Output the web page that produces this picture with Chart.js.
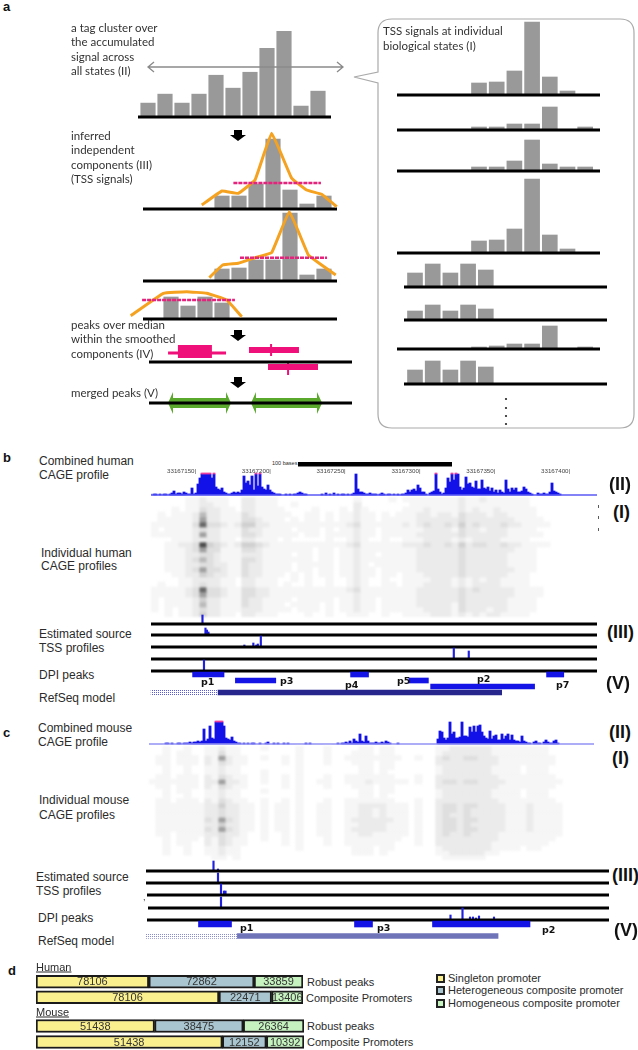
<!DOCTYPE html>
<html>
<head>
<meta charset="utf-8">
<script src="https://cdn.jsdelivr.net/npm/chart.js@4"></script>
<style>
  html, body { margin: 0; padding: 0; background: #fff; }
  #page { position: relative; width: 638px; height: 1050px; overflow: hidden; }
  #page canvas { position: absolute; filter: blur(0.4px); }
  #page canvas.heat { filter: blur(0.9px); }
  .t { position: absolute; white-space: pre; transform: translateY(-50%); line-height: 1; color: #2b2b2b; font-family: "Liberation Sans", Arial, sans-serif; font-size: 12px; }
  .g { font-family: Lato, sans-serif; font-size: 11.5px; color: #333; }
  .b { font-weight: bold; color: #111; }
  #marks { position: absolute; left: 0; top: 0; z-index: 5; }
  .sq { position: absolute; width: 5px; height: 5px; border: 2px solid #222; }
</style>
</head>
<body>
<div id="page"></div>
<script>
// panel a, left column (bar heights)
var accumulated = [14, 23, 14, 23, 42, 29, 45, 69, 86, 11, 26];
var component1 = [13, 13, 25, 70, 19, 5, 13];
var component2 = [12, 13, 21, 21, 68, 6, 12];
var component3 = [22, 13, 22, 16];
var smooth1X = [-1.19, 0, 0.96, 1.94, 2.92, 4.1, 4.98, 5.86, 6.75];
var smooth1Y = [4, 18, 15.7, 29, 75.7, 30.7, 19, 14.7, 2.3];
var smooth2X = [-0.75, 0.04, 0.96, 1.94, 2.92, 3.96, 5.08, 5.86, 6.69];
var smooth2Y = [3.3, 16, 17.7, 23.3, 28.3, 69.3, 26, 16, 6];
var smooth3X = [-2.37, -0.45, 0.92, 2.1, 3.28, 4.16];
var smooth3Y = [3.3, 25.7, 27.3, 25.7, 19, 2.3];
var median1 = [0.67, 5.82, 26];
var median2 = [1.06, 6.18, 23.3];
var median3 = [-1.7, 3.76, 19];

// panel a, right column (bar heights per state)
var state1 = [12, 13, 24, 73, 18, 4, 0];
var state2 = [3, 3, 6, 6, 23, 0, 3];
var state3 = [4, 4, 10, 31, 7, 4, 4];
var state4 = [12, 13, 24, 74, 18, 4, 0];
var state5 = [14, 23, 14, 23, 17];
var state6 = [9, 15, 9, 15, 11];
var state7 = [2, 3, 5, 5, 23, 0, 2];
var state8 = [14, 23, 14, 23, 17];

// panel b, combined human profile
var humanTrack = [
  1,0,1,1,0,1,0,1,1,0, 1,2,4,1,2,2,1,3,2,1, 1,7,1,2,11,17,21,21,21,21,
  21,17,21,8,6,5,7,3,2,1, 1,2,3,2,3,2,5,19,12,14, 10,19,5,21,9,21,8,6,5,10,
  5,3,2,1,1,1,0,0,1,0, 1,0,1,1,2,3,2,1,1,0, 0,0,0,0,0,0,1,0,2,0,
  1,0,2,0,1,0,1,1,0,1, 0,1,2,21,6,3,3,2,1,1, 2,1,1,1,0,1,2,1,0,1,
  1,0,1,0,1,0,1,1,2,5, 3,5,6,4,10,7,3,3,1,0, 2,3,4,21,6,3,1,2,7,17,
  13,21,15,21,21,8,5,7,18,11, 12,8,7,14,6,6,15,7,6,8, 4,7,3,5,2,5,3,2,15,6,
  3,7,5,7,3,3,4,8,6,3, 2,1,0,0,2,1,1,2,1,1, 3,12,4,3,2,1,0,0,0,0,
  0,0,0,0,0,0,0,0,0,0, 0,0,0
];
var humanClipped = [26, 27, 28, 29, 30, 32, 53, 55, 143, 151, 153];
var rulerTicks = [33167150, 33167200, 33167250, 33167300, 33167350, 33167400];

// panel b, individual human profiles (shade 0-9 per cell)
var humanRows = [
  "0000011 2 11100 221 1100000000000 1 00001011 1111112 11211111 10000000000",
  "0000011 2 21100 221 1100100000000 2 00000001 1111112 11111111 10000000000",
  "0001011 3 22110 221 1110000100010 2 10000011 1211112 12112111 11000000000",
  "0101112 5 22111 321 1111001101011 2 11010111 2212213 22212211 11000000000",
  "0111112 6 22111 332 1110101101011 2 11011111 2222223 22222221 11100000000",
  "1111113 8 33212 442 2111111111112 3 11111121 2322324 23222322 11110000000",
  "1011112 3 22111 322 1111011101011 2 11011111 1222213 22122211 11000000000",
  "1111112 6 22111 332 1111101101111 2 11011111 2222223 22222211 11100000000",
  "0001112 2 22110 221 1101000001001 2 10010011 1222212 12222111 10000000000",
  "0011223 9 43212 443 2111111111112 3 11111122 2322324 23322322 11110000000",
  "0011123 6 33111 332 1111111011011 2 11111111 2222223 22222221 11000000000",
  "0011122 3 32111 222 1111011011011 2 11011111 2222223 22222211 11000000000",
  "0011123 5 32111 332 1111111011011 2 11111111 2222223 22222211 11000000000",
  "0011122 3 32211 322 1111011111011 2 10111111 2222223 22222211 11000000000",
  "0011123 6 33211 322 1111011011011 2 11011111 2222223 22222221 11000000000",
  "0001122 4 32211 322 1110101011011 2 11011011 1222223 22222211 10000000000",
  "0000112 2 22110 221 1100101001001 2 10010011 1122212 12122111 10000000000",
  "0100112 3 22110 221 1101001001001 2 10011011 1222212 12222111 10000000000",
  "1111123 8 33211 332 2111111111112 3 11111111 2222223 23222221 11100000000",
  "1111123 6 33211 332 2111111111111 2 11111111 2222223 22222221 11100000000",
  "1011112 4 22111 322 1111011111011 2 11011111 2222223 22222211 11000000000",
  "1011112 5 22111 322 1110111101011 2 11011111 2222213 22222211 11000000000",
  "1010112 3 22111 222 1111011101011 2 11011111 1222213 22212211 11000000000",
  "0010112 4 22110 221 1100001001001 1 10010011 1122212 12122111 10000000000"
];

// panel b, estimated source profiles: position (base offset) and height
var humanSrc1X = [155], humanSrc1Y = [9];
var humanSrc2X = [157, 158, 159], humanSrc2Y = [7, 5, 3];
var humanSrc3X = [183, 189, 191, 192, 194], humanSrc3Y = [2, 4, 2, 3, 11];
var humanSrc4X = [323, 333], humanSrc4Y = [11, 8];
var humanSrc5X = [156], humanSrc5Y = [11];

// panel b, DPI peaks and gene model: start, end
var humanLane0 = [[148.4, 169.4], [254, 266], [385, 396.5]];
var humanLane1 = [[177, 204], [293, 306]];
var humanLane2 = [[307.5, 377]];
var humanUtr = [120.6, 165];
var humanGene = [165, 355];

// panel c, combined mouse profile
var mouseTrack = [
  0,0,0,0,0,0,0,0,0,1, 1,0,1,0,0,1,1,0,1,1, 1,2,1,2,2,3,2,3,15,3,
  5,18,6,5,22,22,22,22,18,6, 5,4,7,3,2,1,1,0,1,0, 1,0,1,1,0,0,1,0,0,1,
  2,0,0,1,0,1,0,0,1,0, 1,0,0,0,0,0,0,0,0,1, 0,1,0,0,0,0,0,0,0,0,
  0,0,0,0,0,1,0,1,1,2, 1,3,1,5,3,2,10,3,2,8, 3,1,1,1,2,1,1,2,1,3,
  2,1,0,0,0,1,0,0,0,0, 0,0,0,0,0,0,0,0,0,0, 0,0,0,0,0,5,13,12,6,4,
  6,22,10,12,6,6,7,22,8,8, 7,17,12,18,12,18,19,12,8,6, 5,13,5,8,9,4,4,10,5,8,
  10,4,9,4,3,3,2,8,3,2, 1,1,0,2,3,1,1,0,2,4, 2,1,1,3,4,1,0,0,0,0,
  0,0,0,0,0,0,0,0,0,0, 0,0,0
];
var mouseClipped = [34, 35, 36, 37];

// panel c, individual mouse profiles (shade 0-9 per cell)
var mouseRows = [
  "00100100 11 2 11 000100001000100 00110110 00000 1122222211 11111100 00000",
  "00101100 11 3 11 000000001000100 01110110 00000 1222222211 11111100 00000",
  "01101110 21 6 21 100100101000100 11111111 00100 2322332221 11111110 00000",
  "01101110 21 3 21 100000101000100 01110110 00000 2222222221 11111110 00000",
  "00100100 11 2 11 000000001000000 00110110 00000 1222222211 11011100 00000",
  "00100100 11 2 11 000100001000000 00110100 00000 1222222211 11011100 00000",
  "01101110 21 3 21 100100101000100 11111110 00100 2222222221 11111110 00000",
  "11111110 22 6 22 100100101001100 11121111 10100 2332332222 11111111 00000",
  "01101110 21 3 21 100000101000100 01110110 00000 2222222221 11111110 00000",
  "00101100 11 2 11 000100001000000 00110110 00000 1222222211 11011100 00000",
  "00100100 11 2 11 000000001000000 00110100 00000 1222222211 11011100 00000",
  "01101110 21 3 21 100100101000100 11111110 00100 2222222221 11111110 00000",
  "01111111 22 4 22 110101101001100 11222211 10100 2332332222 11121111 00000",
  "01111111 22 3 22 110101101001100 11221211 10100 2332322222 11121111 00000",
  "01111111 22 3 22 110101101001100 11221211 10100 2322322222 11121111 00000",
  "01111111 32 6 32 110101101001100 12222221 10100 2332332222 11121111 00000",
  "01111111 22 4 22 110101101001100 11222211 10100 2332322222 11121111 00000",
  "01111111 32 6 32 110101101001100 12222211 10100 2332332222 11121111 00000",
  "01101111 22 3 22 100100101001100 11221111 10100 2322322221 11111111 00000",
  "00101110 21 3 21 100100101000100 11111111 00100 2222222221 11111110 00000",
  "00101100 21 3 21 100000101000100 11111110 00100 2222222211 11111100 00000",
  "00100100 11 2 11 000000001000000 01110110 00000 1222222211 11011000 00000",
  "00100100 11 2 11 000000000000000 01110100 00000 1122222110 00000000 00000",
  "00000000 01 1 01 000000000000000 00000000 00000 0111111000 00000000 00000"
];

// panel c, estimated source profiles
var mouseSrc1X = [43, 46], mouseSrc1Y = [10, 2];
var mouseSrc2X = [46], mouseSrc2Y = [10];
var mouseSrc3X = [48, 50, 51], mouseSrc3Y = [11, 4, 4];
var mouseSrc4X = [48], mouseSrc4Y = [11];
var mouseSrc5X = [201, 209, 214, 216, 218, 220, 230], mouseSrc5Y = [5, 12, 3, 3, 2, 4, 3];

var mouseLane0 = [[33, 55], [137, 149], [189, 254]];
var mouseUtr = [-2, 58.5];
var mouseGene = [58.5, 232.7];

// panel d
var humanRobust = [78106, 72862, 33859];
var humanComposite = [78106, 22471, 13406];
var mouseRobust = [51438, 38475, 26364];
var mouseComposite = [51438, 12152, 10392];
var promoterTypes = ['Singleton promoter', 'Heterogeneous composite promoter', 'Homogeneous composite promoter'];
var promoterColors = ['#fbf08e', '#a9c5cf', '#c5f2bf'];
var rowNames = ['Robust peaks', 'Composite Promoters'];

var page = document.getElementById('page');
var shades = ['#ffffff', '#f6f6f6', '#ebebeb', '#dfdfdf', '#d0d0d0', '#bababa', '#a0a0a0', '#848484', '#686868', '#4c4c4c'];

function label(text, x, y, cls, css) {
  var d = document.createElement('div');
  d.className = 't ' + (cls || '');
  d.textContent = text;
  d.style.left = x + 'px';
  d.style.top = y + 'px';
  if (css) d.style.cssText += css;
  page.appendChild(d);
  return d;
}

function makeCanvas(box, cls) {
  var c = document.createElement('canvas');
  c.width = box.x1 - box.x0;
  c.height = box.bottom - box.top;
  c.style.left = box.x0 + 'px';
  c.style.top = box.top + 'px';
  c.style.width = c.width + 'px';
  c.style.height = c.height + 'px';
  if (cls) c.className = cls;
  page.appendChild(c);
  return c;
}

// one chart on a linear/linear pair of scales; box says where a data unit lands on the page
function panel(box, datasets, cls, horizontal) {
  var ux = box.unitX || 1, uy = box.unitY || 1;
  return new Chart(makeCanvas(box, cls), {
    type: 'bar',
    data: { datasets: datasets },
    options: {
      indexAxis: horizontal ? 'y' : 'x',
      responsive: false,
      animation: false,
      events: [],
      layout: { padding: 0 },
      plugins: { legend: { display: false }, tooltip: { enabled: false } },
      scales: {
        x: { type: 'linear', display: false, offset: false, min: (box.x0 - box.originX) / ux, max: (box.x1 - box.originX) / ux },
        y: { type: 'linear', display: false, offset: false, min: (box.originY - box.bottom) / uy, max: (box.originY - box.top) / uy }
      }
    }
  });
}

function bars(values, first, color, thick) {
  var pts = [];
  for (var i = 0; i < values.length; i++) {
    if (values[i]) pts.push({ x: i + first, y: values[i] });
  }
  return { type: 'bar', data: pts, backgroundColor: color, barThickness: thick, grouped: false, borderWidth: 0 };
}

function xyBars(xs, ys, color, thick) {
  var pts = xs.map(function (x, i) { return { x: x, y: ys[i] }; });
  return { type: 'bar', data: pts, backgroundColor: color, barThickness: thick, grouped: false, borderWidth: 0 };
}

function line(xs, ys, color, width, extra) {
  var pts = xs.map(function (x, i) { return { x: x, y: ys[i] }; });
  var ds = { type: 'line', data: pts, borderColor: color, borderWidth: width, pointRadius: 0, tension: 0, fill: false, borderCapStyle: 'butt' };
  for (var k in extra) ds[k] = extra[k];
  return ds;
}

function span(box, from, to, color, width) {
  var ux = box.unitX || 1;
  return line([(from - box.originX) / ux, (to - box.originX) / ux], [0, 0], color, width);
}

// panel a, left column
function histPanel(values, originX, y0, top, lineFrom, lineTo, smoothX, smoothY, median) {
  var box = { x0: 120, x1: 365, top: top, bottom: y0 + 4, originX: originX, unitX: 17, originY: y0 };
  var sets = [];
  if (median) sets.push(line([median[0], median[1]], [median[2], median[2]], '#e4237c', 2.5, { borderDash: [4, 1] }));
  if (smoothX) sets.push(line(smoothX, smoothY, '#f5a220', 3, { tension: 0.08 }));
  sets.push(span(box, lineFrom, lineTo, '#000', 3));
  sets.push(bars(values, 0, '#999999', 14.5));
  panel(box, sets);
}
histPanel(accumulated, 148, 117.5, 20, 138, 331);
histPanel(component1, 222, 209, 125, 143, 337, smooth1X, smooth1Y, median1);
histPanel(component2, 222, 281, 205, 143, 337, smooth2X, smooth2Y, median2);
histPanel(component3, 171, 319, 285, 143, 337, smooth3X, smooth3Y, median3);

// panel a, peaks over median
var peakBox = { x0: 120, x1: 365, top: 335, bottom: 385, originX: 148, unitX: 17, originY: 362 };
panel(peakBox, [
  span(peakBox, 149, 352, '#000', 3),
  line([1.76, 3.76], [10.5, 10.5], '#f0107a', 13),
  line([1.18, 4.59], [9, 9], '#f0107a', 3),
  line([5.94, 8.88], [12, 12], '#f0107a', 6),
  line([7.24, 7.24], [18, 6], '#f0107a', 2),
  line([7.06, 10], [-5, -5], '#f0107a', 6),
  line([8.24, 8.24], [0, -13], '#f0107a', 2)
]);

// panel a, merged peaks
var mergedBox = { x0: 120, x1: 365, top: 388, bottom: 418, originX: 148, unitX: 17, originY: 403 };
var arrowFill = { fill: 'origin', backgroundColor: '#5aa82c' };
panel(mergedBox, [
  span(mergedBox, 149, 352, '#000', 3),
  line([1.18, 1.47, 1.47, 4.59, 4.59, 4.88], [0, 11, 5, 5, 11, 0], '#5aa82c', 0, arrowFill),
  line([1.18, 1.47, 1.47, 4.59, 4.59, 4.88], [0, -11, -5, -5, -11, 0], '#5aa82c', 0, arrowFill),
  line([6.06, 6.35, 6.35, 9.94, 9.94, 10.24], [0, 11, 5, 5, 11, 0], '#5aa82c', 0, arrowFill),
  line([6.06, 6.35, 6.35, 9.94, 9.94, 10.24], [0, -11, -5, -5, -11, 0], '#5aa82c', 0, arrowFill)
]);

// panel a, right column
function statePanel(values, originX, y0, lineFrom) {
  var box = { x0: 390, x1: 615, top: y0 - 80, bottom: y0 + 4, originX: originX, unitX: 17.7, originY: y0 };
  panel(box, [span(box, lineFrom, lineFrom + 203, '#000', 3), bars(values, 0, '#999999', 15)]);
}
statePanel(state1, 479, 95, 397);
statePanel(state2, 479, 130, 397);
statePanel(state3, 479, 171, 397);
statePanel(state4, 479, 253, 397);
statePanel(state5, 415, 287, 404);
statePanel(state6, 415, 320, 404);
statePanel(state7, 479, 349, 397);
statePanel(state8, 415, 384, 404);

// panels b and c, combined tracks
function trackPanel(values, clipped, originX, y0, top, x1, lineColor, capTop) {
  var box = { x0: originX, x1: x1, top: top, bottom: y0 + 2, originX: originX - 1, unitX: 2, originY: y0 };
  var caps = clipped.map(function (i) { return { x: i, y: [capTop, capTop + 1] }; });
  panel(box, [
    line([0, (x1 - originX) / 2 + 1], [0, 0], lineColor, 1.3),
    { type: 'bar', data: caps, backgroundColor: '#ee3fa0', barThickness: 2, grouped: false, borderWidth: 0 },
    bars(values, 0, '#1212e8', 2.2)
  ]);
}
trackPanel(humanTrack, humanClipped, 151, 495, 470, 597, '#5a5af5', 21);
trackPanel(mouseTrack, mouseClipped, 149, 744, 719, 594, '#9090f5', 22);

// panels b and c, heat maps
function heatPanel(rows, originX, top, bottom, unitX, unitY) {
  var box = { x0: originX, x1: originX + 64 * unitX, top: top, bottom: bottom, originX: originX, unitX: unitX, originY: top, unitY: unitY };
  var sets = rows.map(function (row, r) {
    var cells = row.replace(/ /g, '');
    var pts = [], cols = [];
    for (var i = 0; i < cells.length; i++) {
      if (cells[i] !== '0') {
        pts.push({ x: i + 0.5, y: [-r - 1, -r] });
        cols.push(shades[+cells[i]]);
      }
    }
    return { type: 'bar', data: pts, backgroundColor: cols, barThickness: unitX + 0.5, grouped: false, borderWidth: 0 };
  });
  panel(box, sets, 'heat');
}
heatPanel(humanRows, 151, 497, 617, 7, 5);
heatPanel(mouseRows, 149, 746, 860, 7, 4.75);

// panels b and c, source profile tracks
function sourceTrack(xs, ys, y0, from, to, originX, unitX) {
  var box = { x0: from, x1: to, top: y0 - 14, bottom: y0 + 3, originX: originX, unitX: unitX, originY: y0 };
  panel(box, [span(box, from, to, '#000', 3), xyBars(xs, ys, '#2020e0', 1.5)]);
}
var humanOrigin = 195 - 150 * 1.496;
sourceTrack(humanSrc1X, humanSrc1Y, 624, 151, 597, humanOrigin, 1.496);
sourceTrack(humanSrc2X, humanSrc2Y, 635, 151, 597, humanOrigin, 1.496);
sourceTrack(humanSrc3X, humanSrc3Y, 647, 151, 597, humanOrigin, 1.496);
sourceTrack(humanSrc4X, humanSrc4Y, 659, 151, 597, humanOrigin, 1.496);
sourceTrack(humanSrc5X, humanSrc5Y, 671, 151, 597, humanOrigin, 1.496);
sourceTrack(mouseSrc1X, mouseSrc1Y, 871, 146, 609, 149, 1.5);
sourceTrack(mouseSrc2X, mouseSrc2Y, 883, 146, 609, 149, 1.5);
sourceTrack(mouseSrc3X, mouseSrc3Y, 895, 147, 609, 149, 1.5);
sourceTrack(mouseSrc4X, mouseSrc4Y, 908, 148, 609, 149, 1.5);
sourceTrack(mouseSrc5X, mouseSrc5Y, 920, 147, 609, 149, 1.5);

// dotted fill for the untranslated part of a gene model
function dots(color) {
  var p = document.createElement('canvas');
  p.width = 2; p.height = 2;
  var g = p.getContext('2d');
  g.fillStyle = '#fff'; g.fillRect(0, 0, 2, 2);
  g.fillStyle = color; g.fillRect(0, 0, 1, 1);
  return g.createPattern(p, 'repeat');
}

function laneSet(spans, lane, color, thick) {
  var pts = spans.map(function (s) { return { x: s, y: lane }; });
  return { type: 'bar', data: pts, backgroundColor: color, barThickness: thick, grouped: false, borderWidth: 0 };
}

// panels b and c, DPI peaks and RefSeq models
panel({ x0: 146, x1: 600, top: 670, bottom: 698, originX: humanOrigin, unitX: 1.496, originY: 674.5, unitY: 6 }, [
  laneSet(humanLane0, 0, '#1414e6', 5),
  laneSet(humanLane1, -1, '#1414e6', 5),
  laneSet(humanLane2, -2, '#1414e6', 5),
  laneSet([humanUtr], -3, dots('#5a5ad8'), 6),
  laneSet([humanGene], -3, '#26268c', 5)
], null, true);
panel({ x0: 140, x1: 600, top: 918, bottom: 942, originX: 149, unitX: 1.5, originY: 924, unitY: 12 }, [
  laneSet(mouseLane0, 0, '#1414e6', 6),
  laneSet([mouseUtr], -1, dots('#8a8cd0'), 5),
  laneSet([mouseGene], -1, '#6f73b8', 5)
], null, true);

// panel d
var barText = {
  id: 'barText',
  afterDatasetsDraw: function (chart) {
    var ctx = chart.ctx;
    ctx.save();
    ctx.font = '11px "Liberation Sans", Arial, sans-serif';
    ctx.fillStyle = '#333';
    ctx.textAlign = 'center';
    ctx.textBaseline = 'middle';
    chart.data.datasets.forEach(function (ds, d) {
      chart.getDatasetMeta(d).data.forEach(function (el, i) {
        var c = el.getCenterPoint();
        ctx.fillText(String(ds.counts[i]), c.x, c.y + 0.5);
      });
    });
    ctx.restore();
  }
};

function sharePanel(top, bottom, left, right, robust, composite) {
  var c = makeCanvas({ x0: left, x1: right, top: top, bottom: bottom });
  var sum = function (a) { return a.reduce(function (s, v) { return s + v; }, 0); };
  var sets = promoterTypes.map(function (name, k) {
    return {
      label: name,
      counts: [robust[k], composite[k]],
      data: [robust[k] / sum(robust) * 100, composite[k] / sum(composite) * 100],
      backgroundColor: promoterColors[k],
      borderColor: '#1a1a1a',
      borderWidth: 2,
      borderSkipped: false,
      barThickness: 13
    };
  });
  new Chart(c, {
    type: 'bar',
    data: { labels: rowNames, datasets: sets },
    plugins: [barText],
    options: {
      indexAxis: 'y',
      responsive: false,
      animation: false,
      events: [],
      layout: { padding: { left: 1, right: 1 } },
      plugins: { legend: { display: false }, tooltip: { enabled: false } },
      scales: {
        x: { display: false, stacked: true, min: 0, max: 100 },
        y: { display: false, stacked: true }
      }
    }
  });
}
sharePanel(974, 1005, 35, 304, humanRobust, humanComposite);
sharePanel(1018, 1050, 35, 305, mouseRobust, mouseComposite);

// text, panel a
label('a', 3, 6, 'b', 'font-size:13px');
['a tag cluster over', 'the accumulated', 'signal across', 'all states (II)'].forEach(function (s, i) { label(s, 71, [28, 42, 57, 71][i], 'g'); });
['inferred', 'independent', 'components (III)', '(TSS signals)'].forEach(function (s, i) { label(s, 71, [136, 150, 165, 179][i], 'g'); });
['peaks over median', 'within the smoothed', 'components (IV)'].forEach(function (s, i) { label(s, 71, [325, 339, 354][i], 'g'); });
label('merged peaks (V)', 71, 393, 'g');
label('TSS signals at individual', 383, 31, 'g');
label('biological states (I)', 383, 46, 'g');

// text, panel b
label('b', 3, 457, 'b', 'font-size:13px');
label('Combined human', 39, 461);
label('CAGE profile', 39, 475);
label('Individual human', 41, 553);
label('CAGE profiles', 41, 566);
label('Estimated source', 39, 634);
label('TSS profiles', 39, 648);
label('DPI peaks', 39, 675);
label('RefSeq model', 39, 698);
label('100 bases', 272, 464, '', 'font-size:5.5px');
rulerTicks.forEach(function (v) {
  var x = humanOrigin + (v - 33167000) * 1.496;
  label(v + '|', x - 28, 471, '', 'font-size:6.2px;color:#444');
});
[['p1', 201, 682], ['p3', 280, 681], ['p4', 345, 685], ['p5', 397, 681], ['p2', 477, 679], ['p7', 556, 685]].forEach(function (p) {
  label(p[0], p[1], p[2], 'b', 'font-size:9.5px;font-family:"DejaVu Sans"');
});
label('(II)', 609, 484, 'b', 'font-size:18px');
label('(I)', 613, 512, 'b', 'font-size:18px');
label('(III)', 607, 632, 'b', 'font-size:18px');
label('(V)', 606, 683, 'b', 'font-size:18px');

// text, panel c
label('c', 3, 732, 'b', 'font-size:13px');
label('Combined mouse', 38, 728);
label('CAGE profile', 38, 742);
label('Individual mouse', 39, 800);
label('CAGE profiles', 39, 815);
label('Estimated source', 36, 877);
label('TSS profiles', 36, 891);
label('DPI peaks', 38, 918);
label('RefSeq model', 38, 941);
label(',', 143, 897, '', 'font-size:9px');
[['p1', 240, 928], ['p3', 377, 928], ['p2', 542, 930]].forEach(function (p) {
  label(p[0], p[1], p[2], 'b', 'font-size:9.5px;font-family:"DejaVu Sans"');
});
label('(II)', 609, 732, 'b', 'font-size:18px');
label('(I)', 612, 758, 'b', 'font-size:18px');
label('(III)', 612, 875, 'b', 'font-size:18px');
label('(V)', 614, 930, 'b', 'font-size:18px');

// text, panel d
label('d', 8, 970, 'b', 'font-size:13px');
label('Human', 36, 967, '', 'font-size:11px;text-decoration:underline');
label('Mouse', 36, 1012, '', 'font-size:11px;text-decoration:underline');
label(rowNames[0], 307, 982, '', 'font-size:11px');
label(rowNames[1], 306, 998, '', 'font-size:11px');
label(rowNames[0], 307, 1026, '', 'font-size:11px');
label(rowNames[1], 307, 1042, '', 'font-size:11px');
promoterTypes.forEach(function (name, k) {
  var y = [978, 990, 1003][k];
  label(name, 448, y, '', 'font-size:11px');
  var s = document.createElement('div');
  s.className = 'sq';
  s.style.left = '436px';
  s.style.top = (y - 4) + 'px';
  s.style.background = promoterColors[k];
  page.appendChild(s);
});

// callout, arrows and the scale bar
var downArrow = function (x, y) {
  return '<path d="M' + (x - 4) + ' ' + y + 'h8v5h4l-8 6l-8 -6h4z" fill="#000"/>';
};
page.insertAdjacentHTML('beforeend',
  '<svg id="marks" width="638" height="1050" xmlns="http://www.w3.org/2000/svg">' +
  '<path d="M392 19H620Q634 19 634 33V414Q634 428 620 428H392Q378 428 378 414V83L354 77L378 72V33Q378 19 392 19Z" fill="none" stroke="#aaa" stroke-width="1.2"/>' +
  '<path d="M148 67H343M154 62L148 67L154 72M337 62L343 67L337 72" fill="none" stroke="#8a8a8a" stroke-width="1.3"/>' +
  downArrow(238, 130) + downArrow(238, 330) + downArrow(238, 377) +
  '<g fill="#222"><circle cx="506" cy="399" r="1.1"/><circle cx="506" cy="408" r="1.1"/><circle cx="506" cy="416" r="1.1"/><circle cx="506" cy="424" r="1.1"/></g>' +
  '<rect x="298" y="462" width="154" height="4.5" fill="#000"/>' +
  '<g fill="#333"><rect x="598" y="505" width="0.8" height="3"/><rect x="598" y="516" width="0.8" height="3"/><rect x="598" y="528" width="0.8" height="3"/></g>' +
  '</svg>');
</script>
</body>
</html>
